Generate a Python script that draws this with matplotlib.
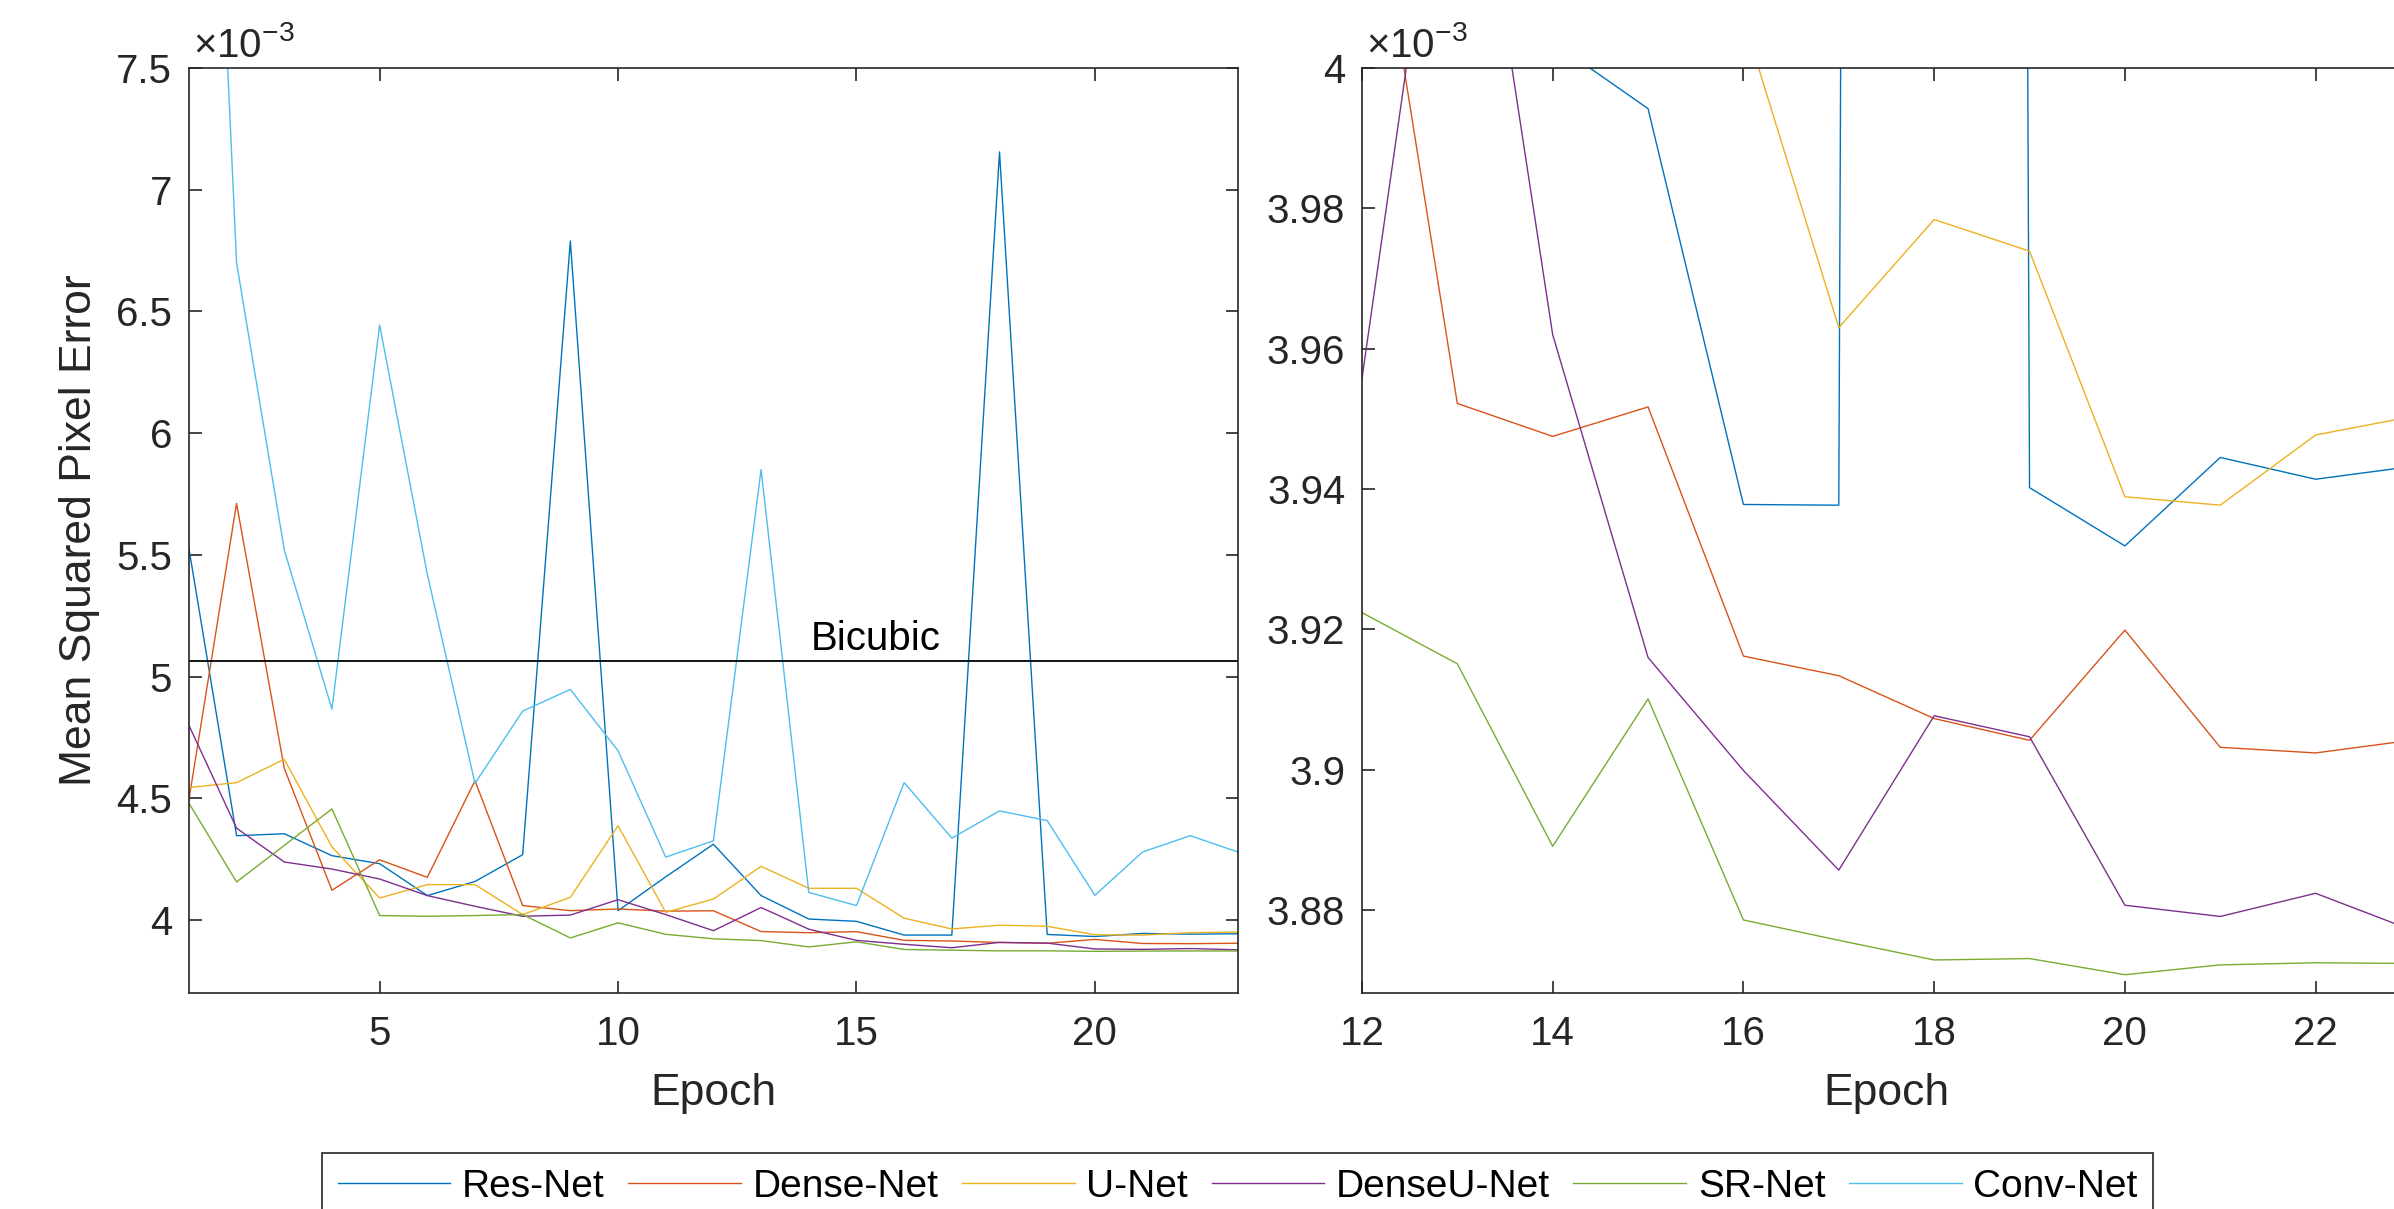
import matplotlib
matplotlib.use("Agg")
import matplotlib.pyplot as plt
import numpy as np
from matplotlib.ticker import FuncFormatter, MultipleLocator

# mean squared pixel error per epoch, in units of 1e-3
epochs = np.arange(1, 24)
res_net = [5.527, 4.346, 4.354, 4.264, 4.231, 4.100, 4.158, 4.268, 6.789, 4.038, 4.177, 4.311,
           4.100, 4.0037, 3.9942, 3.9378, 3.9377, 7.155, 3.9402, 3.9319, 3.9445, 3.9414, 3.9432]
dense_net = [4.493, 5.711, 4.623, 4.122, 4.247, 4.175, 4.572, 4.059, 4.038, 4.045, 4.036, 4.0376,
             3.9522, 3.9475, 3.9517, 3.9162, 3.9134, 3.9073, 3.9042, 3.9199, 3.9032, 3.9024, 3.9042]
u_net = [4.544, 4.564, 4.660, 4.300, 4.090, 4.145, 4.145, 4.022, 4.093, 4.387, 4.031, 4.086,
         4.220, 4.130, 4.130, 4.007, 3.963, 3.9784, 3.9739, 3.9389, 3.9377, 3.9477, 3.9503]
denseu_net = [4.800, 4.377, 4.238, 4.209, 4.168, 4.100, 4.056, 4.015, 4.020, 4.083, 4.022, 3.9557,
              4.051, 3.962, 3.916, 3.8999, 3.8857, 3.9077, 3.9047, 3.8807, 3.8791, 3.8824, 3.8772]
sr_net = [4.480, 4.156, 4.306, 4.456, 4.018, 4.015, 4.018, 4.022, 3.926, 3.988, 3.941, 3.9224,
          3.9151, 3.8891, 3.9101, 3.8786, 3.8757, 3.8729, 3.8731, 3.8708, 3.8722, 3.8725, 3.8724]
conv_net = [11.0, 6.700, 5.520, 4.866, 6.444, 5.420, 4.561, 4.858, 4.947, 4.695, 4.258, 4.325,
            5.850, 4.113, 4.059, 4.564, 4.336, 4.448, 4.408, 4.101, 4.279, 4.346, 4.279]
bicubic = 5.064

names = ["Res-Net", "Dense-Net", "U-Net", "DenseU-Net", "SR-Net", "Conv-Net"]
series = [res_net, dense_net, u_net, denseu_net, sr_net, conv_net]
colors = ["#0072BD", "#D95319", "#EDB120", "#7E2F8E", "#77AC30", "#4DBEEE"]

plt.rcParams["font.family"] = ["Liberation Sans", "DejaVu Sans"]
plt.rcParams["mathtext.fontset"] = "custom"
plt.rcParams["mathtext.rm"] = "Liberation Sans"
plt.rcParams["mathtext.it"] = "Liberation Sans"

dark = "#262626"
fig = plt.figure(figsize=(23.94, 12.09), dpi=100)
ax1 = fig.add_axes([0.0789, 0.1787, 0.4382, 0.7651])
ax2 = fig.add_axes([0.5689, 0.1787, 0.4382, 0.7651])

for ax in (ax1, ax2):
    for name, vals, c in zip(names, series, colors):
        ax.plot(epochs, vals, color=c, lw=1.0, label=name)
    ax.tick_params(direction="in", length=9, width=1.2, top=True, right=True,
                   labelsize=29, colors=dark)
    ax.tick_params(axis="x", pad=16)
    ax.tick_params(axis="y", pad=12)
    for s in ax.spines.values():
        s.set_color(dark)
        s.set_linewidth(1.2)
    ax.yaxis.set_major_formatter(FuncFormatter(lambda v, p: "%g" % round(v, 4)))
    ax.set_xlabel("Epoch", fontsize=32, color=dark)
    ax.xaxis.set_label_coords(0.5, -0.086)
    ax.text(0.004, 1.012, r"$\times10^{\mathrm{-3}}$", transform=ax.transAxes,
            fontsize=29, color=dark, va="baseline", ha="left")

ax1.axhline(bicubic, color="black", lw=1.3)
ax1.text(14.05, bicubic + 0.045, "Bicubic", fontsize=29, va="baseline", ha="left")
ax1.set_xlim(1, 23)
ax1.set_ylim(3.7, 7.5)
ax1.xaxis.set_major_locator(MultipleLocator(5))
ax1.yaxis.set_major_locator(MultipleLocator(0.5))
ax1.set_ylabel("Mean Squared Pixel Error", fontsize=32, color=dark)
ax1.yaxis.set_label_coords(-0.085, 0.5)

ax2.set_xlim(12, 23)
ax2.set_ylim(3.8682, 4.0)
ax2.xaxis.set_major_locator(MultipleLocator(2))
ax2.yaxis.set_major_locator(MultipleLocator(0.02))

handles, labels = ax1.get_legend_handles_labels()
leg = fig.legend(handles, labels, loc="upper center", bbox_to_anchor=(0.517, 0.0463),
                 ncol=6, fontsize=28, frameon=True, fancybox=False, framealpha=1,
                 edgecolor=dark, handlelength=2.9, handletextpad=0.3,
                 columnspacing=0.6, borderpad=0.4, borderaxespad=0)
leg.get_frame().set_linewidth(1.2)

fig.savefig("out.png", dpi=100)
